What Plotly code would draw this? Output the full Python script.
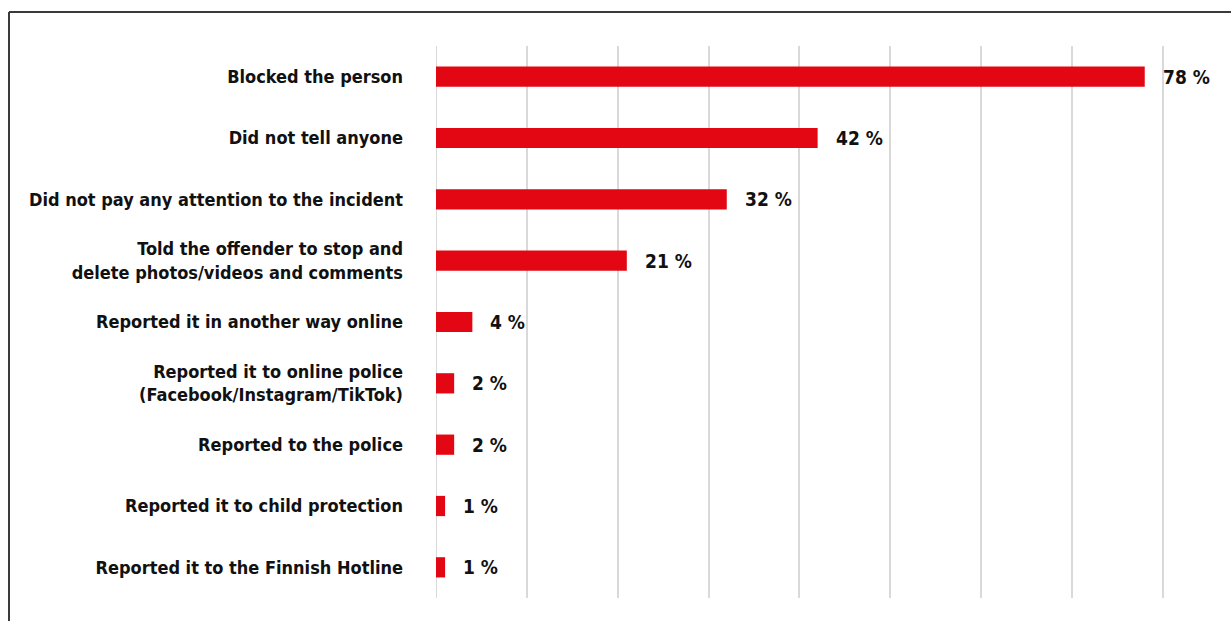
import plotly.graph_objects as go

# Responses, listed top to bottom
categories = [
    "Blocked the person",
    "Did not tell anyone",
    "Did not pay any attention to the incident",
    "Told the offender to stop and<br>delete photos/videos and comments",
    "Reported it in another way online",
    "Reported it to online police<br>(Facebook/Instagram/TikTok)",
    "Reported to the police",
    "Reported it to child protection",
    "Reported it to the Finnish Hotline",
]
values = [78, 42, 32, 21, 4, 2, 2, 1, 1]
x_ticks = [0, 10, 20, 30, 40, 50, 60, 70, 80]

RED = "#e30613"
FONT = "DejaVu Sans Condensed, Liberation Sans Narrow, Arial Narrow, sans-serif"

W, H = 1231, 621
ML, MR, MT, MB = 436, 59, 46, 23
X_MAX = 81

fig = go.Figure(
    go.Bar(
        x=values,
        y=categories,
        orientation="h",
        marker=dict(color=RED, line=dict(width=0)),
        width=0.33,
        hoverinfo="skip",
    )
)

# Value labels to the right of each bar
for cat, v in zip(categories, values):
    fig.add_annotation(
        x=v, y=cat, xref="x", yref="y",
        text=f"<b>{v} %</b>",
        showarrow=False, xanchor="left", yanchor="middle",
        xshift=16,
        font=dict(family=FONT, size=19, color="#111111"),
    )

# Outer frame (top and left edges)
pw = W - ML - MR
ph = H - MT - MB
x0 = (9 - ML) / pw
y0 = 1 + (MT - 12) / ph
fig.add_shape(type="line", xref="paper", yref="paper",
              x0=x0, x1=(W + 5 - ML) / pw, y0=y0, y1=y0,
              line=dict(color="#3a3a3a", width=2))
fig.add_shape(type="line", xref="paper", yref="paper",
              x0=x0, x1=x0, y0=y0, y1=(MT - H - 5) / ph + 1,
              line=dict(color="#3a3a3a", width=2))

fig.update_layout(
    width=W, height=H,
    margin=dict(l=ML, r=MR, t=MT, b=MB, autoexpand=False),
    paper_bgcolor="white", plot_bgcolor="white",
    showlegend=False,
    font=dict(family=FONT, color="#111111"),
    xaxis=dict(
        range=[0, X_MAX], tickvals=x_ticks, showticklabels=False,
        showgrid=True, gridcolor="#d9d9d9", gridwidth=2,
        zeroline=False, showline=False, fixedrange=True, automargin=False,
    ),
    yaxis=dict(
        categoryorder="array", categoryarray=categories[::-1],
        tickvals=categories,
        ticktext=[f"<b>{c}</b>" for c in categories],
        tickfont=dict(family=FONT, size=18, color="#111111"),
        ticks="", ticklabelstandoff=32, automargin=False,
        showgrid=False, zeroline=False, showline=False, fixedrange=True,
    ),
)

# Zero gridline drawn as part of the grid
fig.add_shape(type="line", xref="x", yref="paper", x0=0, x1=0, y0=0, y1=1,
              line=dict(color="#d9d9d9", width=2), layer="below")

fig.write_html("out.html")
